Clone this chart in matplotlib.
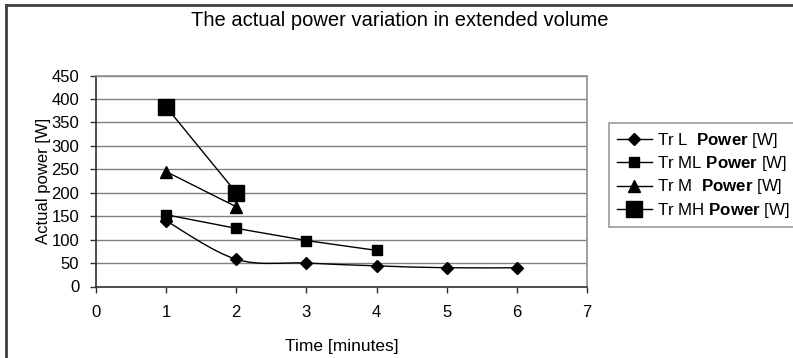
import numpy as np
import matplotlib
matplotlib.use("Agg")
import matplotlib.pyplot as plt
from matplotlib.path import Path
from matplotlib.patches import PathPatch
from matplotlib.lines import Line2D

plt.rcParams['font.family'] = ['Liberation Sans', 'DejaVu Sans']
plt.rcParams['mathtext.fontset'] = 'custom'
plt.rcParams['mathtext.bf'] = 'Liberation Sans:bold'
plt.rcParams['mathtext.rm'] = 'Liberation Sans'

# Data: time in minutes and actual power in watts
time_l = [1, 2, 3, 4, 5, 6]
power_l = [140, 58, 50, 44, 40, 40]
time_ml = [1, 2, 3, 4]
power_ml = [153, 124, 98, 77]
time_m = [1, 2]
power_m = [245, 170]
time_mh = [1, 2]
power_mh = [383, 200]

labels = [r"Tr L  $\mathbf{Power}$ [W]",
          r"Tr ML $\mathbf{Power}$ [W]",
          r"Tr M  $\mathbf{Power}$ [W]",
          r"Tr MH $\mathbf{Power}$ [W]"]

x_ticks = list(range(0, 8))
y_ticks = list(range(0, 451, 50))


def smooth_path(xs, ys, k=1.0 / 6.0):
    """Catmull-Rom style cubic Bezier through the points (spreadsheet smoothing)."""
    xs = np.asarray(xs, float)
    ys = np.asarray(ys, float)
    n = len(xs)
    verts = [(xs[0], ys[0])]
    codes = [Path.MOVETO]
    for i in range(n - 1):
        p0 = np.array([xs[max(i - 1, 0)], ys[max(i - 1, 0)]])
        p1 = np.array([xs[i], ys[i]])
        p2 = np.array([xs[i + 1], ys[i + 1]])
        p3 = np.array([xs[min(i + 2, n - 1)], ys[min(i + 2, n - 1)]])
        c1 = p1 + (p2 - p0) * k
        c2 = p2 - (p3 - p1) * k
        verts += [tuple(c1), tuple(c2), tuple(p2)]
        codes += [Path.CURVE4] * 3
    return Path(verts, codes)


W, H = 793, 358
fig = plt.figure(figsize=(W / 100, H / 100), dpi=100)
fig.patch.set_facecolor('white')

ax = fig.add_axes([96 / W, 1 - 286.5 / H, (587 - 96) / W, (286.5 - 75.5) / H])
ax.set_xlim(0, 7)
ax.set_ylim(0, 450)
ax.set_xticks(x_ticks)
ax.set_yticks(y_ticks)
ax.tick_params(axis='both', direction='out', length=4, width=1, color='#303030',
               labelsize=12)
ax.tick_params(axis='y', pad=8)
ax.tick_params(axis='x', pad=9)
ax.yaxis.grid(True, color='#808080', linewidth=1)
ax.set_axisbelow(True)
for side in ('top', 'right'):
    ax.spines[side].set_color('#909090')
    ax.spines[side].set_linewidth(1.2)
for side in ('left', 'bottom'):
    ax.spines[side].set_color('#303030')
    ax.spines[side].set_linewidth(1.2)

lw = 1.0
# Tr L: smoothed line with diamond markers
ax.add_patch(PathPatch(smooth_path(time_l, power_l), facecolor='none',
                       edgecolor='black', linewidth=lw))
ax.plot(time_l, power_l, linestyle='none', marker='D', markersize=6,
        color='black')
ax.plot(time_ml, power_ml, color='black', linewidth=lw, marker='s',
        markersize=7)
ax.plot(time_m, power_m, color='black', linewidth=lw, marker='^',
        markersize=8)
ax.plot(time_mh, power_mh, color='black', linewidth=lw, marker='s',
        markersize=12)

handles = [
    Line2D([], [], color='black', linewidth=lw, marker='D', markersize=6),
    Line2D([], [], color='black', linewidth=lw, marker='s', markersize=7),
    Line2D([], [], color='black', linewidth=lw, marker='^', markersize=8),
    Line2D([], [], color='black', linewidth=lw, marker='s', markersize=12),
]
leg = fig.legend(handles, labels, loc='upper left',
                 bbox_to_anchor=(609 / W, 1 - 123 / H),
                 bbox_transform=fig.transFigure, fontsize=12.2, frameon=True,
                 fancybox=False, borderaxespad=0, handlelength=2.1,
                 handletextpad=0.3, labelspacing=0.26, borderpad=0.45)
leg.get_frame().set_edgecolor('#808080')
leg.get_frame().set_linewidth(1.2)

ax.set_ylabel('Actual power [W]', fontsize=12)
ax.yaxis.set_label_coords((51 - 96) / 491, 0.5)
ax.set_xlabel('Time [minutes]', fontsize=12.5, labelpad=14)
fig.text(400 / W, 1 - 21 / H, 'The actual power variation in extended volume',
         ha='center', va='center', fontsize=14.5)

# Outer chart frame (left and top edges)
fx = 6 / W
fy = 1 - 5 / H
fig.add_artist(Line2D([fx, fx], [0, fy], transform=fig.transFigure,
                      color='#404040', linewidth=2))
fig.add_artist(Line2D([fx, 1.0], [fy, fy], transform=fig.transFigure,
                      color='#404040', linewidth=2))

fig.savefig('out.png', dpi=100)
